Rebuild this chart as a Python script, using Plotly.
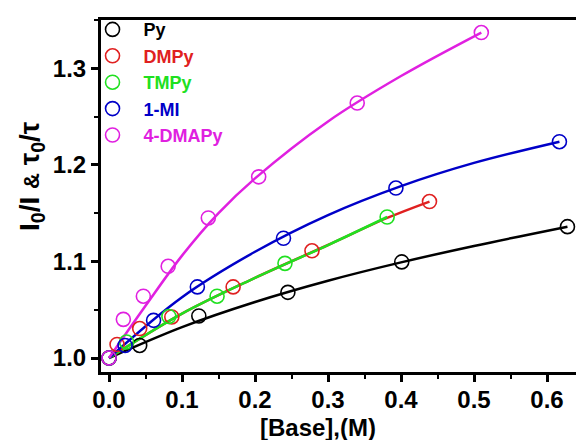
import plotly.graph_objects as go

# Measured points: [Base] in M vs I0/I (or tau0/tau)
py_x = [0.0, 0.042, 0.123, 0.245, 0.401, 0.628]
py_y = [1.0, 1.013, 1.0435, 1.068, 1.0995, 1.136]

dmpy_x = [0.0, 0.011, 0.042, 0.086, 0.170, 0.278, 0.439]
dmpy_y = [1.0, 1.014, 1.0305, 1.0425, 1.0736, 1.111, 1.162]

tmpy_x = [0.0, 0.024, 0.082, 0.148, 0.241, 0.381]
tmpy_y = [1.0, 1.0166, 1.043, 1.064, 1.098, 1.146]

mi_x = [0.0, 0.022, 0.061, 0.121, 0.239, 0.393, 0.617]
mi_y = [1.0, 1.013, 1.039, 1.0736, 1.124, 1.176, 1.224]

dmap_x = [0.0, 0.0196, 0.047, 0.081, 0.136, 0.205, 0.340, 0.510]
dmap_y = [1.0, 1.040, 1.064, 1.095, 1.145, 1.1876, 1.264, 1.337]

# Fitted curves
py_fit_x = [0.0, 0.1, 0.2, 0.3, 0.4, 0.5, 0.628]
py_fit_y = [1.0, 1.032, 1.058, 1.080, 1.099, 1.116, 1.136]

dmpy_fit_x = [0.0, 0.1, 0.2, 0.3, 0.381, 0.439]
dmpy_fit_y = [1.0, 1.046, 1.083, 1.117, 1.145, 1.162]

tmpy_fit_x = [0.0, 0.1, 0.2, 0.3, 0.381]
tmpy_fit_y = [1.0, 1.046, 1.083, 1.117, 1.146]

mi_fit_x = [0.0, 0.1, 0.2, 0.3, 0.4, 0.5, 0.617]
mi_fit_y = [1.0, 1.063, 1.110, 1.148, 1.178, 1.202, 1.224]

dmap_fit_x = [0.0, 0.05, 0.1, 0.15, 0.2, 0.3, 0.4, 0.51]
dmap_fit_y = [1.0, 1.054, 1.106, 1.150, 1.186, 1.245, 1.292, 1.337]

names = ["Py", "DMPy", "TMPy", "1-MI", "4-DMAPy"]
colors = ["#000000", "#e02020", "#20e020", "#0000c8", "#e020e0"]

pts = [(py_x, py_y), (dmpy_x, dmpy_y), (tmpy_x, tmpy_y), (mi_x, mi_y), (dmap_x, dmap_y)]
fits = [(py_fit_x, py_fit_y), (dmpy_fit_x, dmpy_fit_y), (tmpy_fit_x, tmpy_fit_y),
        (mi_fit_x, mi_fit_y), (dmap_fit_x, dmap_fit_y)]

FONT = "Liberation Sans, Arial, sans-serif"

fig = go.Figure()

for (fx, fy), c, n in zip(fits, colors, names):
    fig.add_trace(go.Scatter(x=fx, y=fy, mode="lines", line=dict(color=c, width=2.5, shape="spline"),
                             showlegend=False, hoverinfo="skip"))

for (x, y), c, n in zip(pts, colors, names):
    fig.add_trace(go.Scatter(
        x=x, y=y, mode="markers",
        name=f"<span style='color:{c}'><b>{n}</b></span>",
        marker=dict(symbol="circle-open", size=14, color=c, line=dict(width=1.6, color=c)),
    ))

tick_font = dict(size=24, family=FONT, weight="bold", color="black")

fig.update_layout(
    width=576, height=440,
    margin=dict(l=101, r=0, t=20, b=68),
    paper_bgcolor="white", plot_bgcolor="white",
    font=dict(family=FONT, size=18, color="black"),
    legend=dict(x=-0.041, y=1.025, xanchor="left", yanchor="top", bgcolor="rgba(0,0,0,0)",
                font=dict(size=18, family=FONT), itemwidth=52),
    xaxis=dict(range=[-0.011, 0.6397], showline=True, linewidth=3, linecolor="black", mirror=True,
               ticks="outside", ticklen=7, tickwidth=2.5, tickcolor="black",
               tickvals=[0.0, 0.1, 0.2, 0.3, 0.4, 0.5, 0.6], tickformat=".1f",
               tickfont=tick_font, ticklabelstandoff=-3,
               minor=dict(dtick=0.05, ticks="outside", ticklen=4, tickwidth=2, tickcolor="black"),
               showgrid=False, zeroline=False),
    yaxis=dict(range=[0.9855, 1.35], showline=True, linewidth=3, linecolor="black", mirror=False,
               ticks="outside", ticklen=7, tickwidth=2.5, tickcolor="black",
               tickvals=[1.0, 1.1, 1.2, 1.3], tickformat=".1f",
               tickfont=tick_font,
               minor=dict(dtick=0.05, ticks="outside", ticklen=4, tickwidth=2, tickcolor="black"),
               showgrid=False, zeroline=False),
)

fig.add_annotation(text="<b>[Base],(M)</b>", xref="paper", yref="paper", x=0.456, y=-0.158,
                   showarrow=False, font=dict(size=24, family=FONT), xanchor="center", yanchor="middle")
fig.add_annotation(text="<b>I<sub>0</sub>/I <span style='font-size:22px'>&amp;</span> τ<sub>0</sub>/τ</b>",
                   xref="paper", yref="paper",
                   x=-0.145, y=0.557, textangle=-90, showarrow=False,
                   font=dict(size=28, family=FONT), xanchor="center", yanchor="middle")

fig.write_html("out.html")
